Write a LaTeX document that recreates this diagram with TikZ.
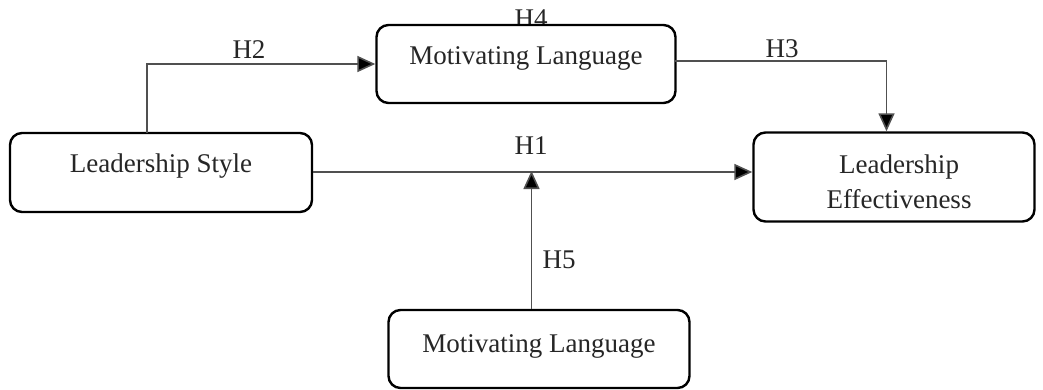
\documentclass[tikz,border=0pt]{standalone}
\usepackage{fontspec}
\setmainfont{Liberation Serif}
\usetikzlibrary{arrows.meta}
\definecolor{linegray}{HTML}{505050}
\tikzset{
  box/.style={draw=black, line width=2.4pt, rounded corners=12pt, fill=white, inner sep=0pt},
  txt/.style={font=\fontsize{27}{32}\selectfont, text=black!85, anchor=base, inner sep=0pt},
  conn/.style={draw=linegray, line width=1.6pt, -{Triangle[length=18pt,width=16pt,fill=black]}},
}
\begin{document}
\begin{tikzpicture}[x=1pt,y=-1pt]
\useasboundingbox (0,0) rectangle (1043,390);
% label partially hidden behind top box
\node[txt] (h4) at (531,28) {H4};
% boxes
\node[box, minimum width=299pt, minimum height=78pt] (ml) at (526,64) {};
\node[box, minimum width=302pt, minimum height=79pt] (ls) at (161,172.5) {};
\node[box, minimum width=281pt, minimum height=89pt] (le) at (894,177) {};
\node[box, minimum width=301pt, minimum height=78pt] (mb) at (539,349) {};
% texts
\node[txt] (tml) at (526,65) {Motivating Language};
\node[txt] (tls) at (161,173) {Leadership Style};
\node[txt] (tle1) at (899,174) {Leadership};
\node[txt] (tle2) at (899,208) {Effectiveness};
\node[txt] (tmb) at (539,352) {Motivating Language};
% connectors
\coordinate (h2s) at (147,133);
\draw[conn] (h2s) |- (ml.west);
\coordinate (h3c) at (886.5,61);
\coordinate (h3s) at (675,61);
\draw[conn] (h3s) -- (h3c) -- (h3c |- le.north);
\draw[conn] (ls.east |- 0,172) -- (le.west |- 0,172);
\coordinate (h1m) at (531.5,172);
\draw[conn] (mb.north -| h1m) -- ([yshift=1pt]h1m);
% labels
\node[txt] (h2) at (249,59) {H2};
\node[txt] (h3) at (782,58) {H3};
\node[txt] (h1) at (531,155) {H1};
\node[txt] (h5) at (559,268) {H5};
\end{tikzpicture}
\end{document}
